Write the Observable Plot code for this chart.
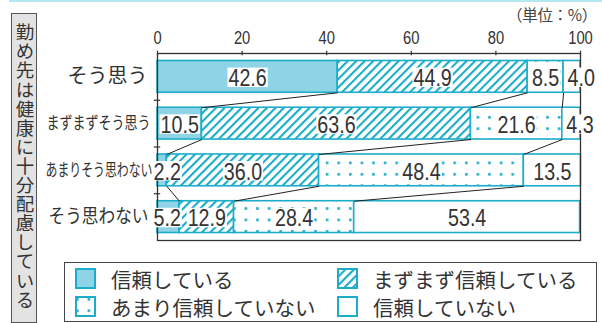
<!DOCTYPE html>
<html lang="ja">
<head>
<meta charset="utf-8">
<script src="https://cdn.jsdelivr.net/npm/d3@7"></script>
<script src="https://cdn.jsdelivr.net/npm/@observablehq/plot@0.6"></script>
<style>
  html, body { margin: 0; padding: 0; background: #fff; }
  #chart { position: relative; width: 602px; height: 323px; overflow: hidden;
           font-family: "Noto Sans CJK JP", sans-serif; color: #333; }
  #rule { position: absolute; left: 9px; right: 0; top: 0; height: 2px; background: #b5e7f1; }
  #unit { position: absolute; right: 5px; top: 3px; font-size: 15.5px; color: #444; letter-spacing: -0.3px; }
  #side { position: absolute; left: 11px; top: 13px; width: 26px; height: 310px; box-sizing: border-box;
          border: 1.5px solid #555; background: #e3e3e3; writing-mode: vertical-rl; text-orientation: upright;
          font-size: 18.5px; line-height: 23px; letter-spacing: 0.6px; padding-top: 9px; color: #333; }
  #plot { position: absolute; left: 0; top: 0; }
  #legend { position: absolute; left: 64px; top: 262px; width: 533px; height: 60px; box-sizing: border-box;
            border: 1.5px solid #444; }
  .item { position: absolute; height: 21px; display: flex; align-items: center; font-size: 20.5px; white-space: nowrap; }
  .item svg { flex: none; margin-right: 15px; }
</style>
</head>
<body>
<svg width="0" height="0" style="position:absolute">
  <defs>
    <pattern id="hatch" patternUnits="userSpaceOnUse" width="6" height="6" patternTransform="rotate(45)">
      <rect width="6" height="6" fill="#fff"/>
      <rect x="0" y="0" width="2.1" height="6" fill="#1badc9"/>
    </pattern>
    <pattern id="dots" patternUnits="userSpaceOnUse" width="11.6" height="11.4">
      <rect width="11.6" height="11.4" fill="#fff"/>
      <rect x="1" y="2" width="2.6" height="2.6" fill="#1badc9"/>
    </pattern>
  </defs>
</svg>
<div id="chart">
  <div id="rule"></div>
  <div id="unit">（単位：%）</div>
  <div id="side">勤め先は健康に十分配慮している</div>
  <div id="legend"></div>
</div>
<script>
// Answers to "my employer pays enough attention to health" (rows)
const categories = ["そう思う", "まずまずそう思う", "あまりそう思わない", "そう思わない"];
// Trust levels (stacked segments, left to right)
const seriesNames = ["信頼している", "まずまず信頼している", "あまり信頼していない", "信頼していない"];
const trust        = [42.6, 10.5,  2.2,  5.2];
const fairlyTrust  = [44.9, 63.6, 36.0, 12.9];
const littleTrust  = [ 8.5, 21.6, 48.4, 28.4];
const noTrust      = [ 4.0,  4.3, 13.5, 53.4];
const xTicks = [0, 20, 40, 60, 80, 100];

const seriesValues = [trust, fairlyTrust, littleTrust, noTrust];
const cyan = "#1badc9";
const fills = ["#8fd4e6", "url(#hatch)", "url(#dots)", "#fff"];
const half = 0.34;              // half bar thickness, in row units
const numFont = '"Liberation Sans", Arial, sans-serif';
const cjkFont = '"Noto Sans CJK JP", sans-serif';
const valueSize = 24, tickSize = 18;

// stacked segments
const segments = [];
const cumulative = categories.map((cat, row) => {
  let acc = 0;
  const bounds = [];
  seriesValues.forEach((vals, k) => {
    const v = vals[row];
    segments.push({row, series: k, value: v, x1: acc, x2: acc + v});
    acc += v;
    bounds.push(acc);
  });
  return bounds;
});

// connector lines between the inner boundaries of neighbouring rows
const links = [];
for (let row = 0; row < categories.length - 1; row++) {
  for (let j = 0; j < seriesValues.length - 1; j++) {
    links.push({x1: cumulative[row][j], y1: row + half, x2: cumulative[row + 1][j], y2: row + 1 - half});
  }
}
const rowEdges = d3.range(categories.length - 1).map(i => i + 0.5);

const wide = segments.filter(d => d.value >= 6);
const narrowFirst = segments.filter(d => d.value < 6 && d.x1 === 0);
const narrowOther = segments.filter(d => d.value < 6 && d.x1 > 0);
const fmt = d => d.value.toFixed(1);

const catStyle = [
  {fontSize: 20,   dx: -10, length: null},
  {fontSize: 17.5, dx: -7,  length: 104},
  {fontSize: 17.5, dx: -5,  length: 107},
  {fontSize: 19,   dx: -9,  length: 100}
];

const plot = Plot.plot({
  width: 602,
  height: 250,
  marginLeft: 157,
  marginRight: 22,
  marginTop: 53,
  marginBottom: 10,
  x: {domain: [0, 100], axis: null},
  y: {domain: [-0.5, categories.length - 0.5], reverse: true, axis: null},
  style: {fontFamily: numFont, fontSize: "18px", color: "#333", background: "transparent"},
  marks: [
    ...seriesValues.map((_, k) => Plot.rect(segments.filter(d => d.series === k), {
      x1: "x1", x2: "x2", y1: d => d.row - half, y2: d => d.row + half,
      fill: fills[k], stroke: cyan, strokeWidth: 1.6
    })),
    Plot.link(links, {x1: "x1", y1: "y1", x2: "x2", y2: "y2", stroke: "#222", strokeWidth: 1}),
    Plot.frame({stroke: "#333", strokeWidth: 1.3}),
    Plot.ruleX(xTicks, {x: d => d, y1: -0.55, y2: -0.45, stroke: "#333", strokeWidth: 1.2}),
    Plot.ruleY(rowEdges, {y: d => d, x1: -0.75, x2: 0.75, stroke: "#333", strokeWidth: 1.2}),
    Plot.text(xTicks, {x: d => d, y: -0.5, dy: -15, text: d => String(d), fontSize: tickSize, fill: "#333"}),
    ...categories.map((c, i) => Plot.text([{label: c, row: i}], {
      x: 0, y: "row", text: "label", textAnchor: "end", dx: catStyle[i].dx,
      fontSize: catStyle[i].fontSize, fontFamily: cjkFont, fill: "#333"
    })),
    Plot.text(wide, {x: d => (d.x1 + d.x2) / 2, y: "row", text: fmt, dy: 1.5, fontSize: valueSize, fill: "#333"}),
    Plot.text(narrowFirst, {x: "x1", y: "row", text: fmt, textAnchor: "start", dx: -4, dy: 1.5, fontSize: valueSize, fill: "#333"}),
    Plot.text(narrowOther, {x: "x1", y: "row", text: fmt, textAnchor: "start", dx: 4, dy: 1.5, fontSize: valueSize, fill: "#333"})
  ]
});
plot.id = "plot";
document.getElementById("chart").insertBefore(plot, document.getElementById("legend"));

// condensed figures: squeeze numbers to narrow-face advance widths
const narrowWidth = (s, fs) => [...s].reduce((w, ch) => w + (ch === "." ? 0.228 : 0.456) * fs, 0);
const squeeze = (el, w) => {
  el.setAttribute("textLength", w.toFixed(1));
  el.setAttribute("lengthAdjust", "spacingAndGlyphs");
};

d3.select(plot).selectAll("text").each(function () {
  const s = this.textContent;
  const i = categories.indexOf(s);
  if (i >= 0 && catStyle[i].length) squeeze(this, catStyle[i].length);
  else if (/^\d+$/.test(s)) squeeze(this, narrowWidth(s, tickSize));
  else if (/^\d+\.\d$/.test(s)) squeeze(this, narrowWidth(s, valueSize));
});

// white boxes behind the value labels
d3.select(plot).selectAll("text").filter(function () { return /^\d+\.\d$/.test(this.textContent); })
  .each(function () {
    const b = this.getBBox();
    const r = document.createElementNS("http://www.w3.org/2000/svg", "rect");
    r.setAttribute("x", b.x - 1);
    r.setAttribute("y", b.y + b.height * 0.13);
    r.setAttribute("width", b.width + 2);
    r.setAttribute("height", b.height * 0.72);
    r.setAttribute("fill", "#fff");
    r.setAttribute("stroke", "none");
    const t = this.getAttribute("transform");
    if (t) r.setAttribute("transform", t);
    this.parentNode.insertBefore(r, this);
  });

// legend
const legendPos = [[10, 5], [272, 5], [10, 33], [272, 33]];
const legend = document.getElementById("legend");
seriesNames.forEach((name, k) => {
  const item = document.createElement("div");
  item.className = "item";
  item.style.left = legendPos[k][0] + "px";
  item.style.top = legendPos[k][1] + "px";
  item.innerHTML = `<svg width="21" height="21"><rect x="1" y="1" width="19" height="19" fill="${fills[k]}" stroke="${cyan}" stroke-width="2"/></svg><span>${name}</span>`;
  legend.appendChild(item);
});
</script>
</body>
</html>
